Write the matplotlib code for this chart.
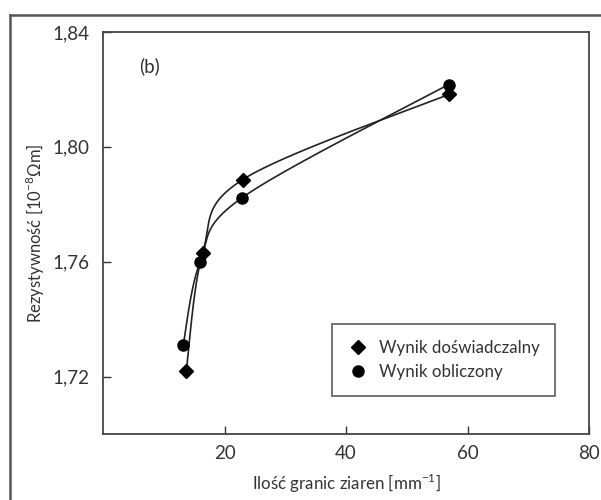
import matplotlib
matplotlib.use('Agg')
import matplotlib.pyplot as plt
import numpy as np
from matplotlib.lines import Line2D

plt.rcParams['font.family'] = ['Lato', 'DejaVu Sans']
plt.rcParams['mathtext.fontset'] = 'custom'
plt.rcParams['mathtext.rm'] = 'Lato'

# data
exp_x = [13.7, 16.4, 23.0, 57.0]
exp_y = [1.722, 1.763, 1.7886, 1.8183]
calc_x = [13.2, 16.0, 22.9, 56.9]
calc_y = [1.731, 1.760, 1.7823, 1.8217]

x_ticks = [20, 40, 60, 80]
x_ticklabels = ['20', '40', '60', '80']
y_ticks = [1.72, 1.76, 1.80, 1.84]
y_ticklabels = ['1,72', '1,76', '1,80', '1,84']

XLIM = (0, 80)
YLIM = (1.70, 1.84)


def smooth(xs, ys, sx, sy, n=60):
    """Excel-like smoothed line (Catmull-Rom Bezier), done in a
    roughly pixel-scaled space so the bends look right."""
    p = np.column_stack([np.asarray(xs) * sx, np.asarray(ys) * sy])
    pts = np.vstack([p[0], p, p[-1]])
    t = np.linspace(0, 1, n)[:, None]
    out = []
    for i in range(1, len(pts) - 2):
        p0, p1, p2, p3 = pts[i - 1], pts[i], pts[i + 1], pts[i + 2]
        c1 = p1 + (p2 - p0) / 6
        c2 = p2 - (p3 - p1) / 6
        seg = ((1 - t) ** 3 * p1 + 3 * (1 - t) ** 2 * t * c1
               + 3 * (1 - t) * t ** 2 * c2 + t ** 3 * p2)
        out.append(seg)
    out = np.vstack(out)
    return out[:, 0] / sx, out[:, 1] / sy


fig = plt.figure(figsize=(6.01, 5.0), dpi=100)
ax = fig.add_axes([103 / 601, 66 / 500, 486 / 601, 402 / 500])

sx = 486 / (XLIM[1] - XLIM[0])
sy = 402 / (YLIM[1] - YLIM[0])
for xs, ys in ((exp_x, exp_y), (calc_x, calc_y)):
    cx, cy = smooth(xs, ys, sx, sy)
    ax.plot(cx, cy, color='#222222', lw=1.2, zorder=2)

ax.plot(exp_x, exp_y, 'D', color='black', ms=7, ls='none',
        label='Wynik doświadczalny', zorder=3)
ax.plot(calc_x, calc_y, 'o', color='black', ms=8, ls='none',
        label='Wynik obliczony', zorder=3)

ax.set_xlim(*XLIM)
ax.set_ylim(*YLIM)
ax.set_xticks(x_ticks)
ax.set_xticklabels(x_ticklabels)
ax.set_yticks(y_ticks)
ax.set_yticklabels(y_ticklabels)
ax.tick_params(direction='in', length=6, width=1, labelsize=13.5,
               colors='#333333', pad=8)
ax.tick_params(axis='y', pad=10)
for s in ax.spines.values():
    s.set_color('#444444')
    s.set_linewidth(1.3)

ax.set_xlabel('Ilość granic ziaren [mm$^{-1}$]', fontsize=12.2, color='#333333',
              labelpad=7)
ax.set_ylabel('Rezystywność [10$^{-8}$Ωm]', fontsize=12, color='#333333',
              labelpad=4)
ax.text(0.075, 0.9, '(b)', transform=ax.transAxes, fontsize=13.5,
        color='#333333')

leg = ax.legend(loc='upper left', bbox_to_anchor=(0.471, 0.273), fontsize=12.2,
                frameon=True, fancybox=False, edgecolor='#333333',
                handletextpad=0.6, borderpad=0.95, labelspacing=0.45,
                handlelength=1.2, borderaxespad=0)
leg.get_frame().set_linewidth(1.2)
for txt in leg.get_texts():
    txt.set_color('#333333')

# outer frame (top and left edges only)
fig.add_artist(Line2D([10 / 601, 1], [1 - 15 / 500] * 2, color='#555555', lw=1.8))
fig.add_artist(Line2D([10 / 601] * 2, [0, 1 - 15 / 500], color='#555555', lw=1.8))

fig.savefig('out.png', dpi=100)
